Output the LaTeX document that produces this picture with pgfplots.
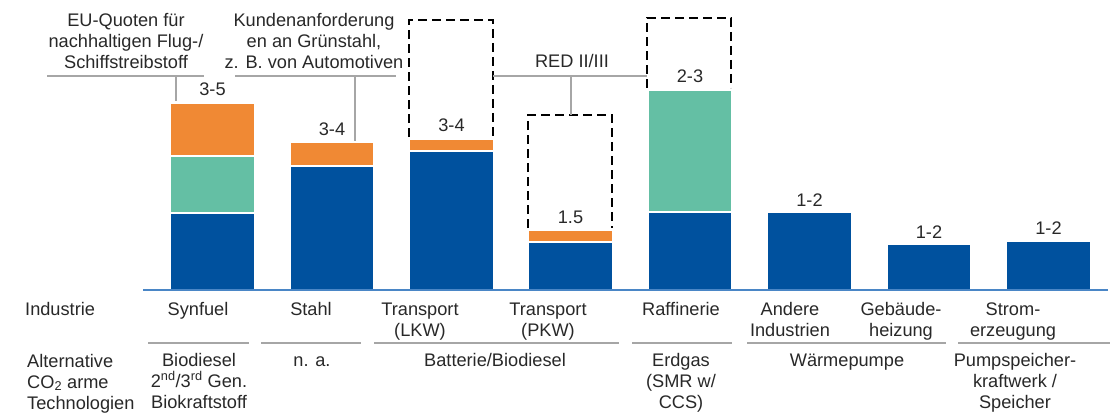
\documentclass[border=0pt]{standalone}
\usepackage{pgfplots}
\pgfplotsset{compat=1.18}
\usepackage{fontspec}
\setmainfont{Liberation Sans}

\definecolor{barblue}{RGB}{0,81,158}
\definecolor{barorange}{RGB}{240,137,52}
\definecolor{bargreen}{RGB}{100,191,164}
\definecolor{rulegray}{RGB}{166,166,166}
\definecolor{axisblue}{RGB}{74,134,198}
\definecolor{txt}{RGB}{40,40,40}

\newcommand{\fs}{\fontsize{18.2}{21}\selectfont}
% centred text line, placed on its baseline
\newcommand{\lbl}[3]{\node[anchor=base, inner sep=0pt, font=\fs, text=txt] at (#1,#2) {#3};}
% left-aligned text line
\newcommand{\lbw}[3]{\node[anchor=base west, inner sep=0pt, font=\fs, text=txt] at (#1,#2) {#3};}

\begin{document}
\begin{tikzpicture}[x=1pt,y=1pt]
\useasboundingbox (0,0) rectangle (1114,416);
\begin{axis}[
  at={(0,0)}, anchor=south west,
  scale only axis, width=1114pt, height=416pt,
  xmin=0, xmax=1114, ymin=-126, ymax=290,
  hide axis, clip=false,
  ybar, bar width=84,
]
% dashed frames (drawn first, bars sit on their lower edge)
\draw[black, line width=2.8pt, dash pattern=on 9pt off 5pt] (409,153) -- (409,270) -- (493,270) -- (493,153);
\draw[black, line width=2.8pt, dash pattern=on 9pt off 5pt] (528,62) -- (528,175) -- (612,175) -- (612,62);
\draw[black, line width=2.8pt, dash pattern=on 9pt off 5pt] (647,202) -- (647,272) -- (731,272) -- (731,202);

% stacked segments: total (orange), blue+green (green), blue base
\addplot[fill=barorange, draw=white, line width=1.2pt, bar shift=0pt] coordinates {
  (212.5,187) (332,148) (451.5,151) (570.5,60)};
\addplot[fill=bargreen, draw=white, line width=1.2pt, bar shift=0pt] coordinates {
  (212.5,134) (690,200)};
\addplot[fill=barblue, draw=white, line width=1.2pt, bar shift=0pt] coordinates {
  (212.5,77) (332,124) (451.5,139) (570.5,48) (690,78) (809.5,78) (929,46) (1048.5,49)};

% baseline
\draw[axisblue, line width=1.5pt] (143,0) -- (1108,0);

% annotation leaders
\draw[rulegray, line width=1.8pt] (47,214) -- (204,214);
\draw[rulegray, line width=1.8pt] (176,214) -- (176,189);
\draw[rulegray, line width=1.8pt] (235,214) -- (396,214);
\draw[rulegray, line width=1.8pt] (355,214) -- (355,149);
\draw[rulegray, line width=1.8pt] (493,214) -- (647,214);
\draw[rulegray, line width=1.8pt] (571,214) -- (571,175);

% annotations
\lbl{126}{263}{EU-Quoten für}
\lbl{126}{242}{nachhaltigen Flug-/}
\lbl{126}{221}{Schiffstreibstoff}
\lbl{314}{263}{Kundenanforderung}
\lbl{314}{242}{en an Grünstahl,}
\lbl{314}{221}{z. B. von Automotiven}
\lbl{572}{222}{RED II/III}

% value ranges
\lbl{212.5}{194}{3-5}
\lbl{332}{155}{3-4}
\lbl{451.5}{158}{3-4}
\lbl{570.5}{67}{1.5}
\lbl{690}{207}{2-3}
\lbl{809.5}{84}{1-2}
\lbl{929}{52}{1-2}
\lbl{1048.5}{56}{1-2}

% table: industry row
\lbw{25}{-25}{Industrie}
\lbl{198}{-25}{Synfuel}
\lbl{311}{-25}{Stahl}
\lbl{420}{-25}{Transport}
\lbl{420}{-46}{(LKW)}
\lbl{548}{-25}{Transport}
\lbl{548}{-46}{(PKW)}
\lbl{681}{-25}{Raffinerie}
\lbl{790}{-25}{Andere}
\lbl{790}{-46}{Industrien}
\lbl{901}{-25}{Gebäude-}
\lbl{901}{-46}{heizung}
\lbl{1013}{-25}{Strom-}
\lbl{1013}{-46}{erzeugung}

% group separators
\draw[rulegray, line width=1.8pt] (148,-53) -- (249,-53);
\draw[rulegray, line width=1.8pt] (261,-53) -- (361,-53);
\draw[rulegray, line width=1.8pt] (374,-53) -- (619,-53);
\draw[rulegray, line width=1.8pt] (632,-53) -- (732,-53);
\draw[rulegray, line width=1.8pt] (747,-53) -- (946,-53);
\draw[rulegray, line width=1.8pt] (958,-53) -- (1110,-53);

% table: technology row
\lbw{27}{-77}{Alternative}
\lbw{27}{-98}{CO\textsubscript{2} arme}
\lbw{27}{-119}{Technologien}
\lbl{199}{-76}{Biodiesel}
\lbl{199}{-97}{2\textsuperscript{nd}/3\textsuperscript{rd} Gen.}
\lbl{199}{-118}{Biokraftstoff}
\lbl{312}{-76}{n. a.}
\lbl{495}{-76}{Batterie/Biodiesel}
\lbl{681}{-76}{Erdgas}
\lbl{681}{-97}{(SMR w/}
\lbl{681}{-118}{CCS)}
\lbl{847}{-76}{Wärmepumpe}
\lbl{1015}{-76}{Pumpspeicher-}
\lbl{1015}{-97}{kraftwerk /}
\lbl{1015}{-118}{Speicher}
\end{axis}
\end{tikzpicture}
\end{document}
